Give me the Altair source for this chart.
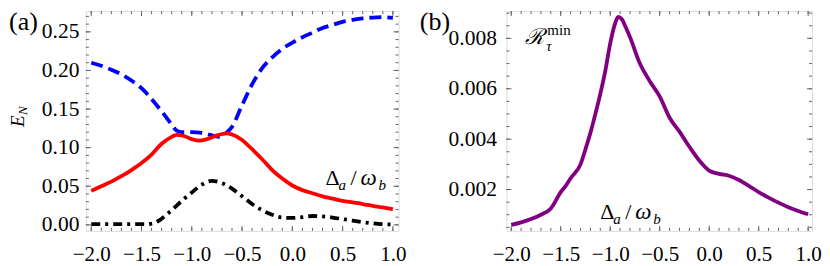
import altair as alt
import numpy as np
import pandas as pd

# ---------------- data ----------------
x_blue = [-2.0, -1.9, -1.8, -1.7, -1.6, -1.5, -1.4, -1.3, -1.2, -1.15, -1.1, -1.0, -0.9, -0.8, -0.72,
          -0.65, -0.6, -0.5, -0.4, -0.3, -0.2, -0.1, 0.0, 0.1, 0.2, 0.3, 0.4, 0.5, 0.6, 0.7, 0.8, 0.9, 1.0]
y_blue = [0.210, 0.206, 0.201, 0.195, 0.187, 0.177, 0.163, 0.147, 0.130, 0.122, 0.120, 0.120, 0.119, 0.116, 0.114,
          0.120, 0.127, 0.155, 0.182, 0.203, 0.217, 0.228, 0.236, 0.243, 0.249, 0.255, 0.259, 0.263, 0.2655, 0.2675, 0.2685, 0.269, 0.268]

x_red = [-2.0, -1.9, -1.8, -1.7, -1.6, -1.5, -1.4, -1.3, -1.2, -1.15, -1.1, -1.0, -0.93, -0.85, -0.75,
         -0.65, -0.6, -0.5, -0.4, -0.3, -0.2, -0.1, 0.0, 0.1, 0.2, 0.3, 0.4, 0.5, 0.6, 0.7, 0.8, 0.9, 1.0]
y_red = [0.044, 0.050, 0.056, 0.063, 0.071, 0.080, 0.091, 0.105, 0.114, 0.1165, 0.116, 0.111, 0.109, 0.111, 0.116,
         0.1185, 0.117, 0.110, 0.098, 0.085, 0.071, 0.060, 0.051, 0.045, 0.041, 0.037, 0.034, 0.031, 0.029, 0.027, 0.0245, 0.0225, 0.0203]

x_black = [-2.0, -1.8, -1.6, -1.45, -1.38, -1.3, -1.2, -1.1, -1.0, -0.9, -0.8, -0.7, -0.6, -0.5, -0.4,
           -0.3, -0.2, -0.1, 0.0, 0.1, 0.2, 0.3, 0.4, 0.5, 0.6, 0.7, 0.8, 0.9, 1.0]
y_black = [0.001, 0.001, 0.001, 0.001, 0.002, 0.008, 0.019, 0.031, 0.042, 0.052, 0.057, 0.054, 0.047, 0.037, 0.027,
           0.019, 0.013, 0.0095, 0.009, 0.010, 0.0115, 0.011, 0.0095, 0.0075, 0.0055, 0.0035, 0.002, 0.001, 0.0005]

x_purple = [-2.0, -1.9, -1.8, -1.7, -1.6, -1.5, -1.45, -1.4, -1.3, -1.25, -1.2, -1.15, -1.1, -1.05, -1.0,
            -0.95, -0.92, -0.88, -0.85, -0.8, -0.7, -0.6, -0.5, -0.4, -0.3, -0.2, -0.1, 0.0, 0.1, 0.2,
            0.3, 0.4, 0.5, 0.6, 0.7, 0.8, 0.9, 1.0]
y_purple = [0.00060, 0.00070, 0.00083, 0.00100, 0.00125, 0.00190, 0.00215, 0.00245, 0.00300, 0.00360, 0.00425,
            0.00500, 0.00580, 0.00670, 0.00780, 0.00860, 0.00885, 0.00875, 0.00850, 0.00805, 0.00700, 0.00630,
            0.00570, 0.00485, 0.00430, 0.00370, 0.00315, 0.00275, 0.00262, 0.00255, 0.00238, 0.00215, 0.00190,
            0.00168, 0.00148, 0.00130, 0.00115, 0.00102]

x_major = [-2.0, -1.5, -1.0, -0.5, 0.0, 0.5, 1.0]
x_minor = [round(v, 2) for v in np.arange(-2.0, 1.001, 0.1)]
ya_major = [0.0, 0.05, 0.10, 0.15, 0.20, 0.25]
ya_minor = [round(v, 3) for v in np.arange(0.0, 0.2701, 0.01)]
yb_major = [0.002, 0.004, 0.006, 0.008]
yb_minor = [round(v, 5) for v in np.arange(0.0005, 0.00901, 0.0005)]

# ---------------- style ----------------
FONT = "Liberation Serif"
H = 220
FRAME = "#666666"
ONE = pd.DataFrame({"k": [0]})


def txt(s, x, y, size, style="normal", font=FONT, angle=None, baseline="alphabetic"):
    mk = dict(font=font, fontSize=size, fontStyle=style, baseline=baseline, align="left", color="black")
    if angle is not None:
        mk["angle"] = angle
    return alt.Chart(ONE).mark_text(**mk).encode(x=alt.value(x), y=alt.value(y), text=alt.value(s))


def panel(lines, W, xdom, ydom, ymaj, ymin, yfmt, ylabpad, texts):
    xs = alt.Scale(domain=xdom, nice=False, zero=False)
    ys = alt.Scale(domain=ydom, nice=False, zero=False)
    xax = alt.Axis(values=x_major, format=".1f", ticks=False, domain=False, grid=False,
                   title=None, labelPadding=13, labelFlush=False, labelFont=FONT, labelFontSize=21,
                   labelColor="black")
    yax = alt.Axis(values=ymaj, format=yfmt, ticks=False, domain=False, grid=False,
                   title=None, labelPadding=ylabpad, labelFont=FONT, labelFontSize=21.5,
                   labelColor="black")
    layers = []
    for xv, yv, color, dash in lines:
        d = pd.DataFrame({"x": xv, "y": yv})
        mk = dict(color=color, strokeWidth=3.8, interpolate="monotone", strokeCap="butt")
        if dash:
            mk["strokeDash"] = dash
        layers.append(alt.Chart(d).mark_line(**mk).encode(
            x=alt.X("x:Q", scale=xs, axis=xax),
            y=alt.Y("y:Q", scale=ys, axis=yax)))
    # ticks (inward, on all four sides)
    for vals, L in [(x_major, 5), (x_minor, 3)]:
        d = pd.DataFrame({"x": vals})
        layers.append(alt.Chart(d).mark_rule(color=FRAME, strokeWidth=1).encode(
            x=alt.X("x:Q", scale=xs, axis=xax), y=alt.value(H), y2=alt.value(H - L)))
        layers.append(alt.Chart(d).mark_rule(color=FRAME, strokeWidth=1).encode(
            x=alt.X("x:Q", scale=xs, axis=xax), y=alt.value(0), y2=alt.value(L)))
    for vals, L in [(ymaj, 5), (ymin, 3)]:
        d = pd.DataFrame({"y": vals})
        layers.append(alt.Chart(d).mark_rule(color=FRAME, strokeWidth=1).encode(
            y=alt.Y("y:Q", scale=ys, axis=yax), x=alt.value(0), x2=alt.value(L)))
        layers.append(alt.Chart(d).mark_rule(color=FRAME, strokeWidth=1).encode(
            y=alt.Y("y:Q", scale=ys, axis=yax), x=alt.value(W), x2=alt.value(W - L)))
    layers += texts
    return alt.layer(*layers).properties(width=W, height=H)


def delta_over_omega(x0, y0):
    return [
        txt("Δ", x0, y0, 22),
        txt("a", x0 + 13, y0 + 5, 15, "italic"),
        txt("/", x0 + 25, y0, 22),
        txt("ω", x0 + 35, y0, 23, "italic"),
        txt("b", x0 + 53, y0 + 5, 15, "italic"),
    ]


texts_a = [
    txt("(a)", -77, -2, 26, baseline="top"),
    txt("E", -62, 116, 19, "italic", angle=270),
    txt("N", -59, 104, 13, "italic", angle=270),
] + delta_over_omega(240, 174)

texts_b = [
    txt("(b)", -86.7, -2, 26, baseline="top"),
    txt("ℛ", 19, 33, 22, "italic", font="DejaVu Serif"),
    txt("τ", 40, 40, 15, "italic"),
    txt("min", 41, 24, 15),
] + delta_over_omega(94, 208.5)

pa = panel(
    [(x_blue, y_blue, "#0000ff", [12, 6]),
     (x_red, y_red, "#ff0000", None),
     (x_black, y_black, "#000000", [9, 5, 3, 5])],
    313, [-2.053, 1.056], [-0.0078, 0.2768], ya_major, ya_minor, ".2f", 7, texts_a)

pb = panel(
    [(x_purple, y_purple, "#800080", None)],
    306, [-2.049, 1.039], [0.00036, 0.00908], yb_major, yb_minor, ".3f", 10, texts_b)

chart = alt.hconcat(pa, pb, spacing=12).properties(padding=0).configure_view(
    stroke=FRAME, strokeWidth=1).configure(background="white")

chart.save("out.html", embed_options={"renderer": "svg", "actions": False})
